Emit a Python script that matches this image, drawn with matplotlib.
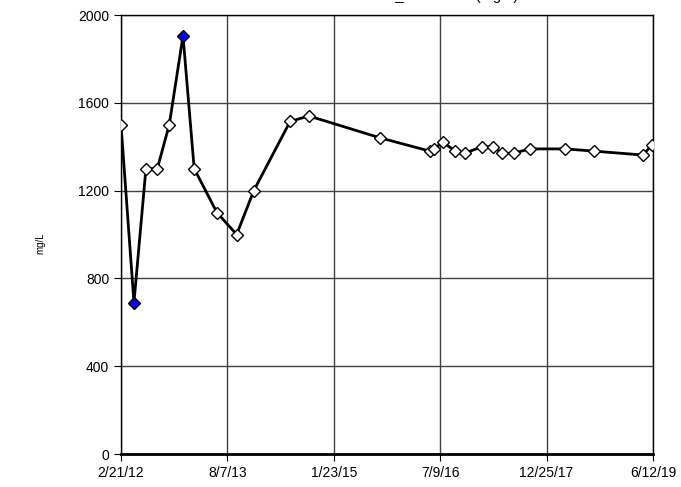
import datetime as dt
import matplotlib
matplotlib.use("Agg")
import matplotlib.pyplot as plt
import matplotlib.dates as mdates

plt.rcParams['font.family'] = ['Liberation Sans', 'DejaVu Sans']

# sample dates and concentrations (mg/L)
dates = ["2012-02-21", "2012-04-26", "2012-06-25", "2012-08-21", "2012-10-20",
         "2012-12-28", "2013-02-22", "2013-06-16", "2013-09-23", "2013-12-18",
         "2014-06-18", "2014-09-20", "2015-09-14", "2016-05-18", "2016-06-07",
         "2016-07-24", "2016-09-24", "2016-11-09", "2017-02-04", "2017-03-31",
         "2017-05-17", "2017-07-13", "2017-10-01", "2018-03-30", "2018-08-18",
         "2019-04-24", "2019-06-07"]
values = [1500, 690, 1300, 1300, 1500, 1905, 1300, 1100, 1000, 1200,
          1515, 1540, 1440, 1380, 1390, 1420, 1380, 1370, 1400, 1400,
          1370, 1370, 1390, 1390, 1380, 1362, 1410]
# flagged samples (drawn in blue)
flagged = [1, 5]

tick_labels = ["2/21/12", "8/7/13", "1/23/15", "7/9/16", "12/25/17", "6/12/19"]
y_ticks = [0, 400, 800, 1200, 1600, 2000]

x = [dt.datetime.strptime(d, "%Y-%m-%d") for d in dates]
xt = [dt.datetime.strptime(t, "%m/%d/%y") for t in tick_labels]

fig = plt.figure(figsize=(6.81, 4.87), dpi=100)
ax = fig.add_axes([121/681, 1 - 454/487, 532/681, 439/487])

ax.plot(x, values, color='black', lw=2, zorder=3)
normal = [i for i in range(len(x)) if i not in flagged]
ax.plot([x[i] for i in normal], [values[i] for i in normal], ls='none',
        marker='D', ms=6, mfc='white', mec='black', mew=1, zorder=4)
ax.plot([x[i] for i in flagged], [values[i] for i in flagged], ls='none',
        marker='D', ms=6, mfc='#0000ff', mec='black', mew=1, zorder=4)

ax.set_xlim(xt[0], xt[-1])
ax.set_ylim(0, 2000)
ax.set_xticks(xt)
ax.set_xticklabels(tick_labels)
ax.set_yticks(y_ticks)
ax.tick_params(axis='both', direction='out', length=5, labelsize=10, color='black')
ax.grid(True, color='#404040', lw=1)
ax.set_axisbelow(True)
for s in ax.spines.values():
    s.set_color('black')
    s.set_linewidth(1)
ax.spines['bottom'].set_linewidth(2)

fig.text(40/681, 0.5, "mg/L", rotation=90, fontsize=7, ha='center', va='center')
# title sits above the visible area, only its lowest strokes show (as in the source)
fig.text(366/681, 1.0, "TDS_Dissolved  (mg/L)", fontsize=10.5, ha='left', va='baseline')

fig.savefig("out.png", dpi=100)
